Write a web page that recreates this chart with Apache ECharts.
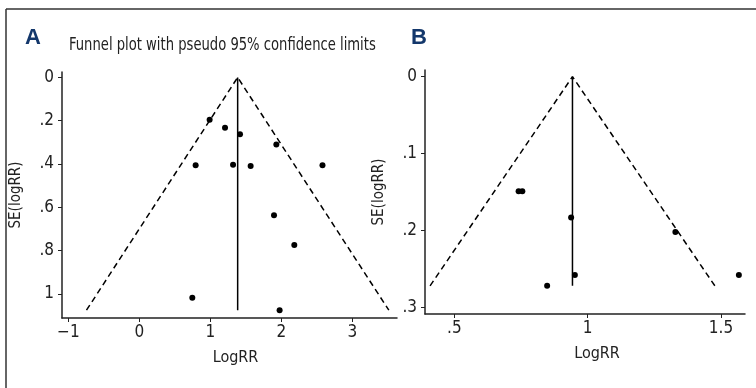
<!DOCTYPE html>
<html>
<head>
<meta charset="utf-8">
<script src="https://cdn.jsdelivr.net/npm/echarts@6/dist/echarts.min.js"></script>
<style>
  html, body { margin: 0; padding: 0; background: #fff; }
  #chart { width: 756px; height: 388px; }
</style>
</head>
<body>
<div id="chart"></div>
<script>
// 面板A的研究点 [LogRR, SE]
var pointsA = [
  [0.99, 0.196], [1.207, 0.232], [1.418, 0.262], [1.93, 0.31],
  [0.793, 0.406], [1.32, 0.403], [1.568, 0.409], [2.58, 0.406],
  [1.897, 0.637], [2.183, 0.774], [0.746, 1.018], [1.976, 1.075]
];
// 面板A的漏斗线和合并效应线
var funnelA = [[-0.745, 1.075], [1.385, 0], [3.515, 1.075]];
var centerA = [[1.385, 0], [1.385, 1.075]];
var xTicksA = [-1, 0, 1, 2, 3];
var yTicksA = [0, 0.2, 0.4, 0.6, 0.8, 1];

// 面板B
var pointsB = [
  [0.741, 0.149], [0.755, 0.149], [0.938, 0.183], [1.329, 0.202],
  [0.952, 0.258], [0.848, 0.272], [1.567, 0.258]
];
var funnelB = [[0.409, 0.272], [0.943, 0], [1.477, 0.272]];
var centerB = [[0.943, 0], [0.943, 0.272]];
var xTicksB = [0.5, 1, 1.5];
var yTicksB = [0, 0.1, 0.2, 0.3];

var FONT = '"Liberation Sans Narrow", "DejaVu Sans Condensed", sans-serif';
var AXIS_COLOR = '#222';

// 去掉前导0, 负号用 −
function fmt(v) {
  var s = String(Math.round(v * 100) / 100);
  if (s.indexOf('0.') === 0) s = s.slice(1);
  return s.replace('-', '\u2212');
}

function xAxisOpt(idx, min, max, ticks, pad) {
  return {
    gridIndex: idx, type: 'value', min: min, max: max,
    name: 'LogRR', nameLocation: 'middle', nameGap: 32,
    nameTextStyle: { fontFamily: FONT, fontSize: 16, color: '#222', padding: [0, 0, 0, pad] },
    splitLine: { show: false },
    axisLine: { onZero: false, lineStyle: { color: AXIS_COLOR, width: 1.5 } },
    axisTick: { customValues: ticks, length: 4, lineStyle: { color: AXIS_COLOR } },
    axisLabel: { customValues: ticks, formatter: fmt, fontFamily: FONT, fontSize: 17, color: '#222', margin: 6 }
  };
}

function yAxisOpt(idx, min, max, ticks) {
  return {
    gridIndex: idx, type: 'value', min: min, max: max, inverse: true,
    name: 'SE(logRR)', nameLocation: 'middle', nameGap: 38, nameRotate: 90,
    nameTextStyle: { fontFamily: FONT, fontSize: 15, color: '#222' },
    splitLine: { show: false },
    axisLine: { onZero: false, lineStyle: { color: AXIS_COLOR, width: 1.5 } },
    axisTick: { customValues: ticks, length: 4, lineStyle: { color: AXIS_COLOR } },
    axisLabel: { customValues: ticks, formatter: fmt, fontFamily: FONT, fontSize: 17, color: '#222', margin: 8 }
  };
}

function lineSeries(idx, data, dashed) {
  return {
    type: 'line', xAxisIndex: idx, yAxisIndex: idx, data: data,
    symbol: 'none', silent: true,
    lineStyle: { color: '#000', width: 1.5, type: dashed ? [6, 4] : 'solid' }
  };
}

function dotSeries(idx, data) {
  return {
    type: 'scatter', xAxisIndex: idx, yAxisIndex: idx, data: data,
    symbol: 'circle', symbolSize: 6, itemStyle: { color: '#000', opacity: 1 }
  };
}

var myChart = echarts.init(document.getElementById('chart'), null, { renderer: 'canvas' });
var option = {
  animation: false,
  backgroundColor: '#fff',
  grid: [
    { left: 62, top: 72, width: 335, height: 246 },
    { left: 425, top: 70, width: 320, height: 244 }
  ],
  xAxis: [
    xAxisOpt(0, -1.09, 3.63, xTicksA, 12),
    xAxisOpt(1, 0.39, 1.59, xTicksB, 24)
  ],
  yAxis: [
    yAxisOpt(0, -0.025, 1.111, yTicksA),
    yAxisOpt(1, -0.0087, 0.3086, yTicksB)
  ],
  series: [
    lineSeries(0, funnelA, true),
    lineSeries(0, centerA, false),
    dotSeries(0, pointsA),
    lineSeries(1, funnelB, true),
    lineSeries(1, centerB, false),
    dotSeries(1, pointsB)
  ],
  graphic: [
    // 外框(上边和左边)
    { type: 'line', shape: { x1: 6, y1: 9, x2: 756, y2: 9 }, style: { stroke: '#333', lineWidth: 1.5 } },
    { type: 'line', shape: { x1: 6, y1: 9, x2: 6, y2: 388 }, style: { stroke: '#333', lineWidth: 1.5 } },
    { type: 'text', left: 25, top: 27, style: { text: 'A', fontFamily: '"Liberation Sans", sans-serif', fontWeight: 'bold', fontSize: 22, fill: '#13376b' } },
    { type: 'text', left: 411, top: 27, style: { text: 'B', fontFamily: '"Liberation Sans", sans-serif', fontWeight: 'bold', fontSize: 22, fill: '#13376b' } },
    { type: 'text', x: 69, y: 37, scaleX: 0.86, style: { text: 'Funnel plot with pseudo 95% confidence limits', fontFamily: FONT, fontSize: 17, fill: '#222' } }
  ]
};
myChart.setOption(option);
</script>
</body>
</html>
